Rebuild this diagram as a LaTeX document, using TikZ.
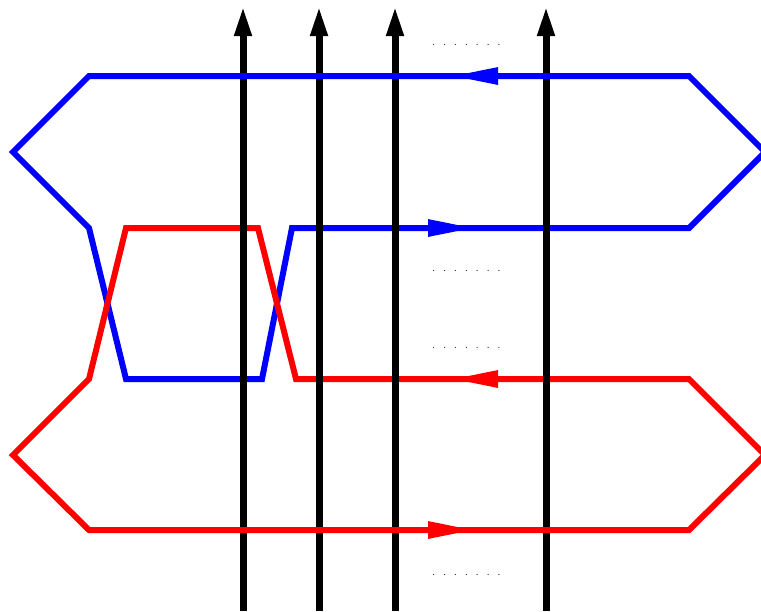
\documentclass[tikz,border=0pt]{standalone}
\usepackage{tikz}
\usetikzlibrary{arrows.meta}

\tikzset{
  loopline/.style={line width=6pt, line join=miter},
  strand/.style={black, line width=7pt, -{Triangle[length=30pt,width=16pt]}},
  looptip/.style={line width=6pt, -{Triangle[length=47pt,width=16pt]}},
}
\newcommand{\dotrow}{.\hspace{7.6pt}.\hspace{7.6pt}.\hspace{7.6pt}.\hspace{7.6pt}.\hspace{7.6pt}.\hspace{7.6pt}.}

\begin{document}
\begin{tikzpicture}[x=1pt, y=-1pt]
            \useasboundingbox (0,0) rectangle (761,611);

            % loops, inner parts pass under the strands
            \draw[blue, loopline] (89,76) -- (13,152) -- (89,228) -- (126,379) -- (262,379)
                -- (292,228) -- (689,228) -- (765,152) -- (689,76) -- cycle;
            \draw[red, loopline] (126,228) -- (258,228) -- (296,379) -- (689,379) -- (765,455)
                -- (689,530) -- (89,530) -- (13,455) -- (89,379) -- cycle;

            % strands
            \foreach \x in {243, 319, 395, 546}
                \draw[strand] (\x,611) -- (\x,6);

            % outer parts pass over the strands
            \draw[blue, line width=6pt] (689,76) -- (89,76);
            \draw[red, line width=6pt] (89,530) -- (689,530);

            % orientation of the loops
            \draw[blue, looptip] (520,76) -- (451,76);
            \draw[blue, looptip] (410,228) -- (475,228);
            \draw[red, looptip] (520,379) -- (451,379);
            \draw[red, looptip] (410,530) -- (475,530);

            % dots
            \foreach \y in {45, 271, 348, 575}
                \node[anchor=base west, inner sep=0pt, font=\large] at (432,\y) {\dotrow};
        \end{tikzpicture}
\end{document}
